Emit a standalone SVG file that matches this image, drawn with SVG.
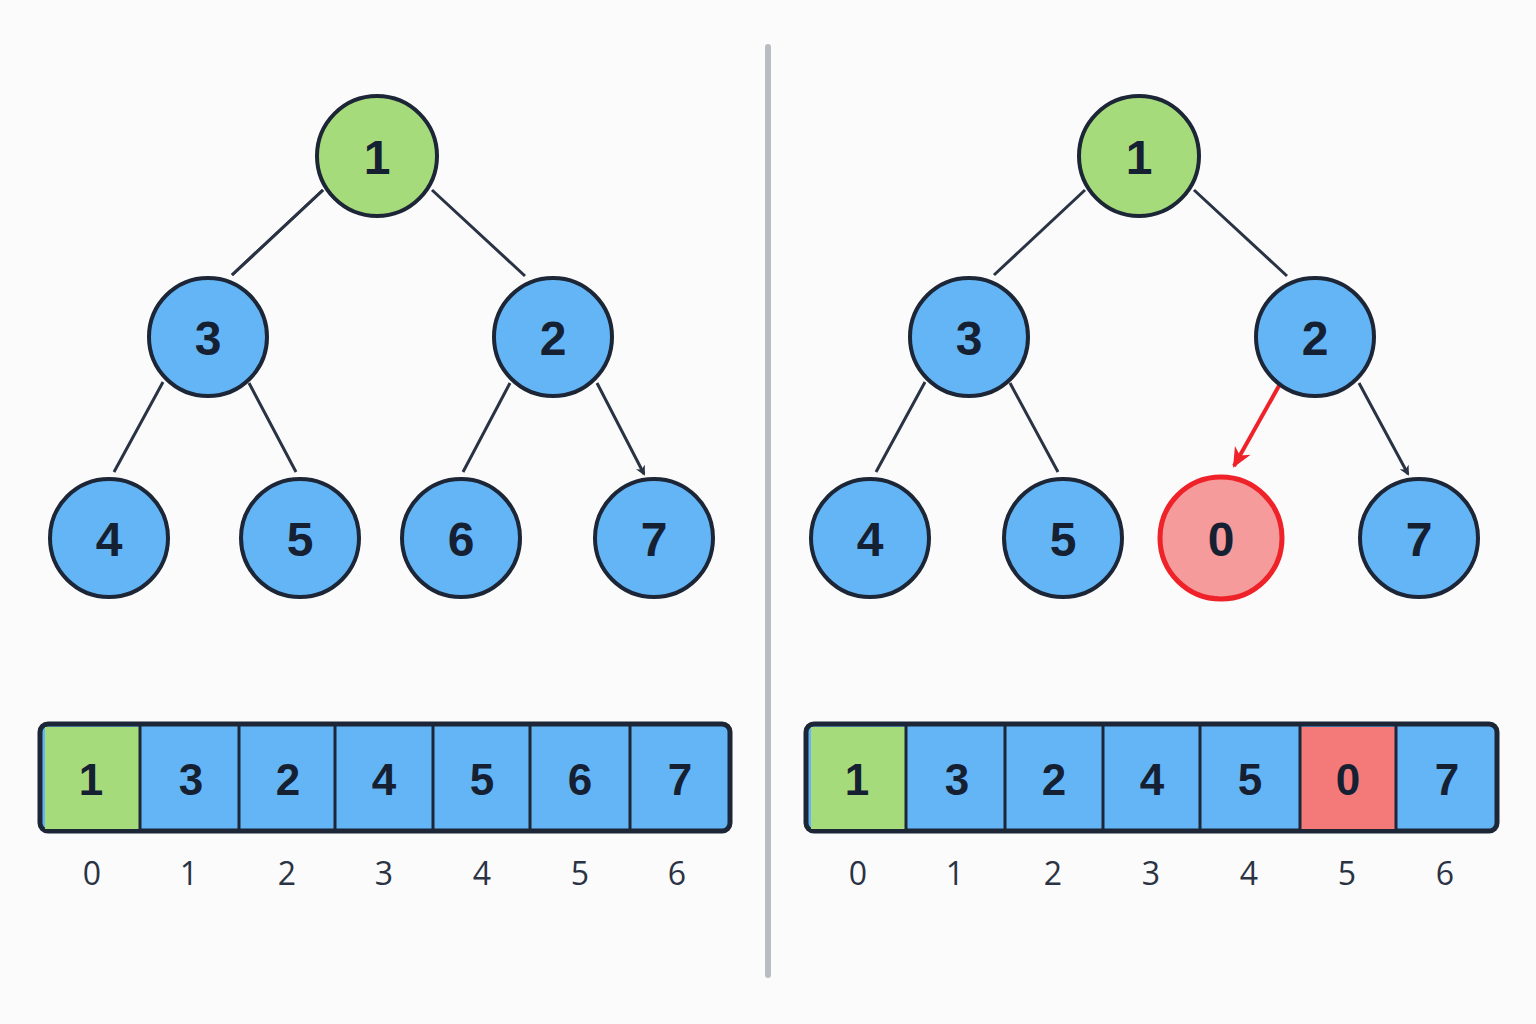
<svg xmlns="http://www.w3.org/2000/svg" width="1536" height="1024" viewBox="0 0 1536 1024">
<style>
.n{stroke:#1c2636;stroke-width:4}
.b{fill:#64b5f6}.g{fill:#a6db7c}.r{fill:#f59b9b;stroke:#ee2228}
.t{font-family:"Liberation Sans",Arial,sans-serif;font-weight:bold;font-size:48px;fill:#152033;text-anchor:middle}
.a{font-family:"Liberation Sans",Arial,sans-serif;font-weight:bold;font-size:44px;fill:#152033;text-anchor:middle}
.i{font-family:"Open Sans","Liberation Sans",sans-serif;font-size:32px;fill:#2a3344;text-anchor:middle}
.e{stroke:#2a3344;stroke-width:3;fill:none;marker-end:url(#ah)}
.er{stroke:#ee2228;stroke-width:4;fill:none;marker-end:url(#ahr)}
.c{stroke:#1c2636;stroke-width:3}
</style>
<defs>
<marker id="ah" markerWidth="10" markerHeight="10" refX="8" refY="5" orient="auto" markerUnits="userSpaceOnUse" viewBox="0 0 10 10"><path d="M0,0 L10,5 L0,10 L3,5 Z" fill="#2a3344" transform="scale(1)"/></marker>
<marker id="ahr" markerWidth="22" markerHeight="22" refX="18" refY="11" orient="auto" markerUnits="userSpaceOnUse"><path d="M0,2 L20,11 L0,20 L6,11 Z" fill="#ee2228"/></marker>
</defs>
<rect width="1536" height="1024" fill="#fbfbfb"/>
<line x1="768" y1="47" x2="768" y2="975" stroke="#b9bcc3" stroke-width="6" stroke-linecap="round"/>
<g id="connectors">
<path class="e" d="M323,190 L232,275" style="marker-end:none"/>
</g>
<g id="edges">
<path class="e" d="M323,190L232,275M432,190L525,276M163,382L114,472M249,383L296,472M510,383L463,472M597,383L644,474"/>
</g>
<g id="edges-right">
<path class="e" d="M1085,190L994,275M1194,190L1287,276M925,382L876,472M1010,383L1058,472M1359,383L1408,474"/>
<path class="er" d="M1280,384L1234,466"/>
</g>
<g id="L1"><circle class="n g" cx="377" cy="156" r="60"/><text class="t" x="377" y="174">1</text></g>
<g id="L3"><circle class="n b" cx="208" cy="337" r="59"/><text class="t" x="208" y="355">3</text></g>
<g id="L2"><circle class="n b" cx="553" cy="337" r="59"/><text class="t" x="553" y="355">2</text></g>
<g id="L4"><circle class="n b" cx="109" cy="538" r="59"/><text class="t" x="109" y="556">4</text></g>
<g id="L5"><circle class="n b" cx="300" cy="538" r="59"/><text class="t" x="300" y="556">5</text></g>
<g id="L6"><circle class="n b" cx="461" cy="538" r="59"/><text class="t" x="461" y="556">6</text></g>
<g id="L7"><circle class="n b" cx="654" cy="538" r="59"/><text class="t" x="654" y="556">7</text></g>
<g id="R1"><circle class="n g" cx="1139" cy="156" r="60"/><text class="t" x="1139" y="174">1</text></g>
<g id="R3"><circle class="n b" cx="969" cy="337" r="59"/><text class="t" x="969" y="355">3</text></g>
<g id="R2"><circle class="n b" cx="1315" cy="337" r="59"/><text class="t" x="1315" y="355">2</text></g>
<g id="R4"><circle class="n b" cx="870" cy="538" r="59"/><text class="t" x="870" y="556">4</text></g>
<g id="R5"><circle class="n b" cx="1063" cy="538" r="59"/><text class="t" x="1063" y="556">5</text></g>
<g id="R0"><circle class="r" stroke-width="5" cx="1221" cy="538" r="61"/><text class="t" x="1221" y="556">0</text></g>
<g id="R7"><circle class="n b" cx="1419" cy="538" r="59"/><text class="t" x="1419" y="556">7</text></g>
<g id="arrayL">
<rect x="40" y="724" width="690" height="107" rx="8" fill="#64b5f6" stroke="#1c2636" stroke-width="5"/>
<path d="M45,727 H140 V829 H45 Z" fill="#a6db7c"/>
<path class="c" d="M140,726V829M239,726V829M335,726V829M433,726V829M530,726V829M630,726V829"/>
<text class="a" x="91" y="795">1</text><text class="a" x="191" y="795">3</text><text class="a" x="288" y="795">2</text><text class="a" x="384" y="795">4</text><text class="a" x="482" y="795">5</text><text class="a" x="580" y="795">6</text><text class="a" x="680" y="795">7</text>
<text class="i" x="92" y="885">0</text><text class="i" x="189" y="885">1</text><text class="i" x="287" y="885">2</text><text class="i" x="384" y="885">3</text><text class="i" x="482" y="885">4</text><text class="i" x="580" y="885">5</text><text class="i" x="677" y="885">6</text>
</g>
<g id="arrayR">
<rect x="806" y="724" width="691" height="107" rx="8" fill="#64b5f6" stroke="#1c2636" stroke-width="5"/>
<path d="M811,727 H906 V829 H811 Z" fill="#a6db7c"/>
<path d="M1300,727 H1396 V829 H1300 Z" fill="#f47a7a"/>
<path class="c" d="M906,726V829M1005,726V829M1103,726V829M1200,726V829M1300,726V829M1396,726V829"/>
<text class="a" x="857" y="795">1</text><text class="a" x="957" y="795">3</text><text class="a" x="1054" y="795">2</text><text class="a" x="1152" y="795">4</text><text class="a" x="1250" y="795">5</text><text class="a" x="1348" y="795">0</text><text class="a" x="1447" y="795">7</text>
<text class="i" x="858" y="885">0</text><text class="i" x="955" y="885">1</text><text class="i" x="1053" y="885">2</text><text class="i" x="1151" y="885">3</text><text class="i" x="1249" y="885">4</text><text class="i" x="1347" y="885">5</text><text class="i" x="1445" y="885">6</text>
</g>
</svg>
